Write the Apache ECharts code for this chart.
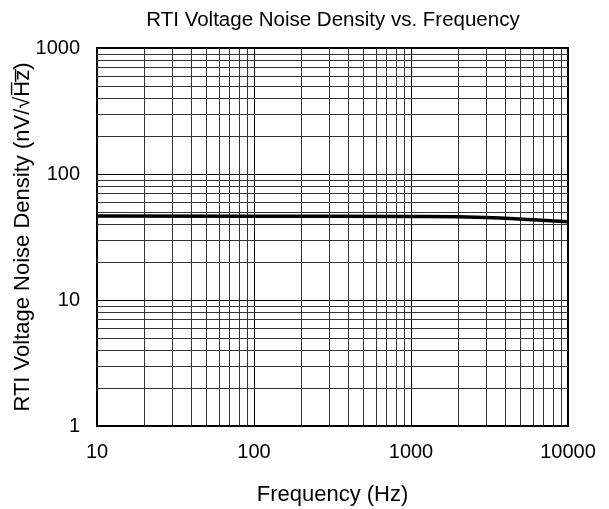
<!DOCTYPE html>
<html>
<head>
<meta charset="utf-8">
<script src="https://cdn.jsdelivr.net/npm/echarts@6/dist/echarts.min.js"></script>
<style>
html,body{margin:0;padding:0;background:#fff;}
#chart{width:609px;height:509px;}
</style>
</head>
<body>
<div id="chart"></div>
<script>
// Noise density curve (frequency in Hz, density in nV/√Hz)
var freqHz = [10, 100, 1000, 2000, 4000, 6000, 10000];
var noiseDensity = [46.4, 46.3, 46.0, 45.7, 44.5, 43.3, 41.7];

// Minor log grid positions (2..9 within each decade)
var xMinor = [20,30,40,50,60,70,80,90,200,300,400,500,600,700,800,900,2000,3000,4000,5000,6000,7000,8000,9000];
var yMinor = [2,3,4,5,6,7,8,9,20,30,40,50,60,70,80,90,200,300,400,500,600,700,800,900];

var FONT = 'Liberation Sans, Arial, sans-serif';

var minorLines = [];
xMinor.forEach(function (v) { minorLines.push({ xAxis: v }); });
yMinor.forEach(function (v) { minorLines.push({ yAxis: v }); });

function plainNumber(v) { return String(Math.round(v)); }

var chart = echarts.init(document.getElementById('chart'), null, { renderer: 'canvas' });
chart.setOption({
  animation: false,
  backgroundColor: '#fff',
  title: {
    text: 'RTI Voltage Noise Density vs. Frequency',
    left: 328, top: 5, textAlign: 'center',
    textStyle: { fontFamily: FONT, fontSize: 20.5, fontWeight: 'normal', color: '#000' }
  },
  grid: {
    left: 97, top: 48, right: 41, bottom: 83,
    containLabel: false, outerBoundsMode: 'none',
    show: true, borderColor: '#000', borderWidth: 2, backgroundColor: '#fff'
  },
  xAxis: {
    type: 'log', logBase: 10, min: 10, max: 10000,
    name: 'Frequency (Hz)', nameLocation: 'middle', nameGap: 58, nameMoveOverlap: false,
    nameTextStyle: { fontFamily: FONT, fontSize: 22, color: '#000' },
    axisLine: { show: true, lineStyle: { color: '#000', width: 2 } },
    axisTick: { show: false },
    axisLabel: { fontFamily: FONT, fontSize: 20, color: '#000', margin: 16, formatter: plainNumber },
    splitLine: { show: true, lineStyle: { color: '#000', width: 1 } },
    minorTick: { show: false }, minorSplitLine: { show: false }
  },
  yAxis: {
    type: 'log', logBase: 10, min: 1, max: 1000,
    name: 'RTI Voltage Noise Density (nV/\u221AH\u0305z\u0305)', nameLocation: 'middle', nameGap: 63, nameMoveOverlap: false,
    nameTextStyle: { fontFamily: FONT, fontSize: 22, color: '#000' },
    axisLine: { show: true, lineStyle: { color: '#000', width: 2 } },
    axisTick: { show: false },
    axisLabel: { fontFamily: FONT, fontSize: 20, color: '#000', margin: 17, formatter: plainNumber },
    splitLine: { show: true, lineStyle: { color: '#000', width: 1 } }
  },
  series: [{
    type: 'line',
    data: freqHz.map(function (f, i) { return [f, noiseDensity[i]]; }),
    symbol: 'none',
    smooth: true,
    lineStyle: { color: '#000', width: 3.5 },
    z: 5,
    markLine: {
      silent: true, symbol: 'none', animation: false,
      label: { show: false },
      lineStyle: { color: '#333', width: 1, type: 'solid' },
      data: minorLines
    }
  }]
});
</script>
</body>
</html>
